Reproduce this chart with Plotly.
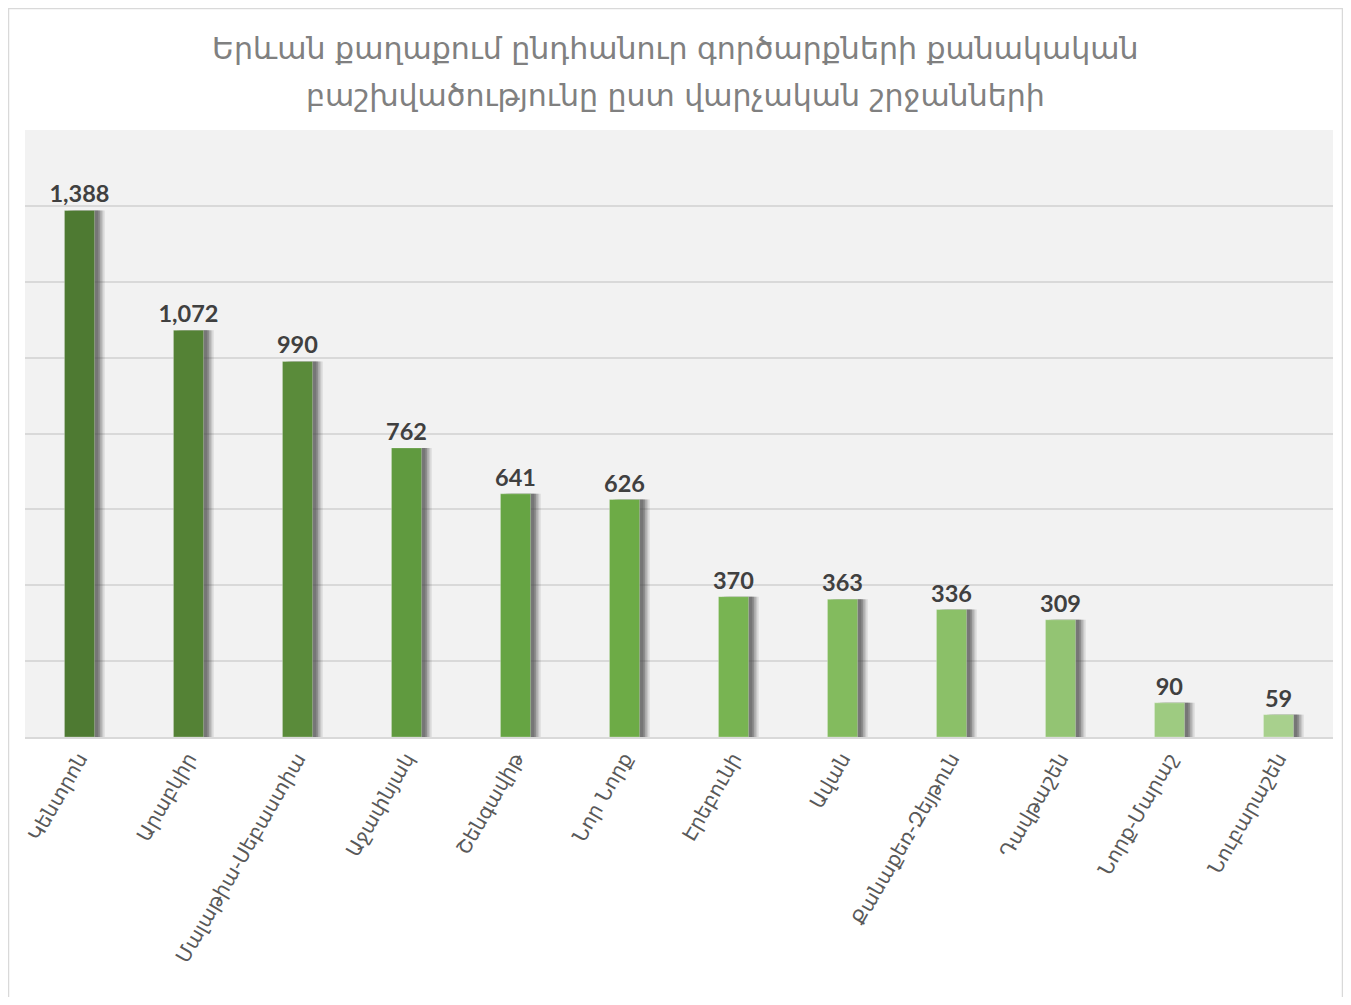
import plotly.graph_objects as go

# Districts of Yerevan and number of transactions
districts = ["Կենտրոն", "Արաբկիր", "Մալաթիա-Սեբաստիա", "Աջափնյակ", "Շենգավիթ",
             "Նոր Նորք", "Էրեբունի", "Ավան", "Քանաքեռ-Զեյթուն", "Դավթաշեն",
             "Նորք-Մարաշ", "Նուբարաշեն"]
deals = [1388, 1072, 990, 762, 641, 626, 370, 363, 336, 309, 90, 59]

bar_colors = ["#4e7a32", "#548235", "#5a8b3a", "#609a3f", "#66a443", "#6dab46",
              "#78b452", "#83bb5e", "#8bc068", "#93c473", "#9ecb81", "#a8d08d"]

title_lines = ["Երևան քաղաքում ընդհանուր գործարքների քանակական",
               "բաշխվածությունը ըստ վարչական շրջանների"]

# plot area in figure pixels (page has an 8px body margin)
W, H = 1335, 989
L, R, T, B = 17, 10, 122, 260
plot_w, plot_h = W - L - R, H - T - B


def px_x(x):
    return (x - L) / plot_w


def px_y(y):
    return (H - B - y) / plot_h


bar_w = 0.276
fig = go.Figure()

# soft drop shadow to the right of each bar
for shift, alpha in [(0.095, 0.10), (0.08, 0.16), (0.065, 0.22), (0.05, 0.28), (0.035, 0.32)]:
    fig.add_trace(go.Bar(
        x=districts, y=deals,
        width=bar_w, offset=-bar_w / 2 + shift,
        marker=dict(color=f"rgba(70,70,70,{alpha})", line=dict(width=0)),
        hoverinfo="skip", showlegend=False,
    ))

fig.add_trace(go.Bar(
    x=districts, y=deals,
    width=bar_w, offset=-bar_w / 2,
    marker=dict(color=bar_colors, line=dict(color="rgba(255,255,255,0.5)", width=0.5)),
    text=deals, texttemplate="<b>%{y:,}</b>", textposition="outside",
    constraintext="none", cliponaxis=False,
    textfont=dict(family="Lato, Open Sans, sans-serif", size=23.5, color="#404040"),
    showlegend=False,
))

annotations = []
for line, y in zip(title_lines, [40, 87]):
    annotations.append(dict(
        text=line, xref="paper", yref="paper", x=px_x(W / 2), y=px_y(y),
        xanchor="center", yanchor="middle", showarrow=False,
        font=dict(family="DejaVu Sans, sans-serif", size=30, color="#808080"),
    ))

fig.update_layout(
    width=W, height=H,
    barmode="overlay",
    paper_bgcolor="white",
    plot_bgcolor="#f2f2f2",
    margin=dict(l=L, r=R, t=T, b=B),
    font=dict(family="DejaVu Sans, sans-serif", color="#595959"),
    annotations=annotations,
    shapes=[dict(type="rect", xref="paper", yref="paper",
                 x0=px_x(0.5), x1=px_x(W - 0.5), y0=-0.5, y1=px_y(0.5),
                 line=dict(color="#d9d9d9", width=1.5), layer="below")],
)

fig.update_xaxes(
    tickangle=-60, tickfont=dict(size=20, color="#595959"),
    showline=True, linecolor="#d9d9d9", linewidth=2,
    showgrid=False, ticks="",
)
fig.update_yaxes(
    range=[0, 1600], dtick=200, showticklabels=False,
    showgrid=True, gridcolor="#d9d9d9", gridwidth=2, zeroline=False,
)

fig.write_html("out.html")
